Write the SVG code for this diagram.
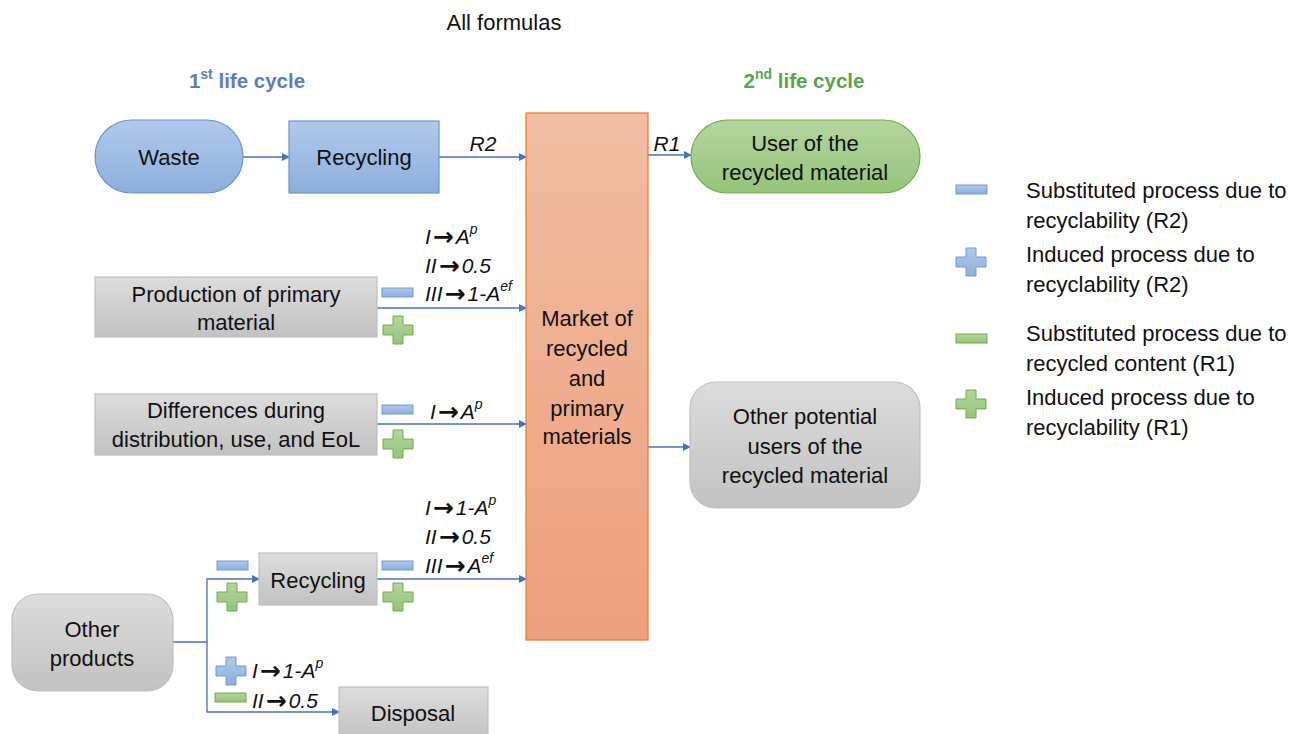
<svg xmlns="http://www.w3.org/2000/svg" width="1295" height="734" viewBox="0 0 1295 734">
<style>
  text { font-family: "Liberation Sans", Arial, sans-serif; font-size: 22px; fill: #111; dominant-baseline: central; }
  .c { text-anchor: middle; }
  .it { font-style: italic; font-size: 21px; }
  .sup { font-size: 14px; }
  .ar { font-family: "DejaVu Sans", sans-serif; font-weight: bold; font-style: normal; font-size: 25px; }
  .conn { stroke: #4472C4; stroke-width: 1.3; fill: none; }
  .blue { fill: url(#gBlue); stroke: #6A93CF; stroke-width: 1.2; }
  .green { fill: url(#gGreen); stroke: #70AD47; stroke-width: 1.2; }
  .gray { fill: url(#gGray); stroke: #BFBFBF; stroke-width: 1.2; }
  .mkt { fill: url(#gOrange); stroke: #ED7D31; stroke-width: 1.3; }
  .sb { fill: url(#gBlue); stroke: #6F9BD4; stroke-width: 1; }
  .sg { fill: url(#gGreen); stroke: #70AD47; stroke-width: 1; }
</style>
<defs>
  <linearGradient id="gBlue" x1="0" y1="0" x2="0" y2="1"><stop offset="0" stop-color="#B0C9EA"/><stop offset="1" stop-color="#8DAFDD"/></linearGradient>
  <linearGradient id="gGreen" x1="0" y1="0" x2="0" y2="1"><stop offset="0" stop-color="#B5D59E"/><stop offset="1" stop-color="#94C47A"/></linearGradient>
  <linearGradient id="gGray" x1="0" y1="0" x2="0" y2="1"><stop offset="0" stop-color="#DCDCDC"/><stop offset="1" stop-color="#C2C2C2"/></linearGradient>
  <linearGradient id="gOrange" x1="0" y1="0" x2="0" y2="1"><stop offset="0" stop-color="#F1BDA2"/><stop offset="1" stop-color="#EE9F7C"/></linearGradient>
  <marker id="arr" markerWidth="8" markerHeight="8" refX="7" refY="4" orient="auto" markerUnits="userSpaceOnUse">
    <path d="M0,0 L8,4 L0,8 Z" fill="#4472C4"/>
  </marker>
  <path id="plus" d="M10,0 H20 V9 H30 V19 H20 V28 H10 V19 H0 V9 H10 Z"/>
  <rect id="minus" x="0" y="0" width="31" height="9"/>
</defs>

<text class="c" x="504" y="22">All formulas</text>
<text class="c" x="247" y="80" style="font-weight:bold;font-size:20.5px;fill:#5B7EC2">1<tspan class="sup" dy="-6">st</tspan><tspan dy="6"> life cycle</tspan></text>
<text class="c" x="804" y="80" style="font-weight:bold;font-size:20.5px;fill:#5AA54B">2<tspan class="sup" dy="-6">nd</tspan><tspan dy="6"> life cycle</tspan></text>

<g id="connectors">
  <line class="conn" x1="243" y1="157" x2="289" y2="157" marker-end="url(#arr)"/>
  <line class="conn" x1="439" y1="157" x2="526" y2="157" marker-end="url(#arr)"/>
  <line class="conn" x1="648" y1="155" x2="691" y2="155" marker-end="url(#arr)"/>
  <line class="conn" x1="377" y1="308" x2="526" y2="308" marker-end="url(#arr)"/>
  <line class="conn" x1="377" y1="424" x2="526" y2="424" marker-end="url(#arr)"/>
  <line class="conn" x1="648" y1="447" x2="690" y2="447" marker-end="url(#arr)"/>
  <line class="conn" x1="377" y1="579" x2="526" y2="579" marker-end="url(#arr)"/>
  <polyline class="conn" points="173,642 207,642 207,579 259,579" marker-end="url(#arr)"/>
  <polyline class="conn" points="207,642 207,712 339,712" marker-end="url(#arr)"/>
  <text class="it c" x="483" y="143">R2</text>
  <text class="it c" x="667" y="143">R1</text>
  <text class="it" x="425" y="236">I<tspan class="ar" dx="2">→</tspan><tspan dx="2">A</tspan><tspan class="sup" dy="-7">p</tspan></text>
  <text class="it" x="425" y="265">II<tspan class="ar" dx="2">→</tspan><tspan dx="2">0.5</tspan></text>
  <text class="it" x="425" y="293">III<tspan class="ar" dx="2">→</tspan><tspan dx="2">1-A</tspan><tspan class="sup" dy="-7">ef</tspan></text>
  <text class="it" x="430" y="411">I<tspan class="ar" dx="2">→</tspan><tspan dx="2">A</tspan><tspan class="sup" dy="-7">p</tspan></text>
  <text class="it" x="425" y="507">I<tspan class="ar" dx="2">→</tspan><tspan dx="2">1-A</tspan><tspan class="sup" dy="-7">p</tspan></text>
  <text class="it" x="425" y="536">II<tspan class="ar" dx="2">→</tspan><tspan dx="2">0.5</tspan></text>
  <text class="it" x="425" y="565">III<tspan class="ar" dx="2">→</tspan><tspan dx="2">A</tspan><tspan class="sup" dy="-7">ef</tspan></text>
  <text class="it" x="252" y="670">I<tspan class="ar" dx="2">→</tspan><tspan dx="2">1-A</tspan><tspan class="sup" dy="-7">p</tspan></text>
  <text class="it" x="252" y="700">II<tspan class="ar" dx="2">→</tspan><tspan dx="2">0.5</tspan></text>
</g>

<g id="symbols">
  <use href="#minus" class="sb" x="382" y="288"/>
  <use href="#plus" class="sg" x="383" y="316"/>
  <use href="#minus" class="sb" x="382" y="405"/>
  <use href="#plus" class="sg" x="383" y="430"/>
  <use href="#minus" class="sb" x="382" y="561"/>
  <use href="#plus" class="sg" x="383" y="583"/>
  <use href="#minus" class="sb" x="217" y="561"/>
  <use href="#plus" class="sg" x="217" y="583"/>
  <use href="#plus" class="sb" x="216" y="657"/>
  <use href="#minus" class="sg" x="215" y="693"/>
</g>

<g id="waste">
  <rect class="blue" x="95" y="120" width="148" height="73" rx="36.5"/>
  <text class="c" x="169" y="157">Waste</text>
</g>
<g id="recycling1">
  <rect class="blue" x="289" y="121" width="150" height="72"/>
  <text class="c" x="364" y="157">Recycling</text>
</g>
<g id="market">
  <rect class="mkt" x="526" y="113" width="122" height="527"/>
  <text class="c" x="587" y="318">Market of</text>
  <text class="c" x="587" y="348">recycled</text>
  <text class="c" x="587" y="378">and</text>
  <text class="c" x="587" y="408">primary</text>
  <text class="c" x="587" y="436">materials</text>
</g>
<g id="user">
  <rect class="green" x="691" y="120" width="229" height="73" rx="36.5"/>
  <text class="c" x="805" y="143">User of the</text>
  <text class="c" x="805" y="172">recycled material</text>
</g>
<g id="production">
  <rect class="gray" x="95" y="277" width="282" height="60"/>
  <text class="c" x="236" y="294">Production of primary</text>
  <text class="c" x="236" y="322">material</text>
</g>
<g id="differences">
  <rect class="gray" x="95" y="394" width="282" height="61"/>
  <text class="c" x="236" y="410">Differences during</text>
  <text class="c" x="236" y="439">distribution, use, and EoL</text>
</g>
<g id="otherusers">
  <rect class="gray" x="690" y="382" width="230" height="126" rx="26"/>
  <text class="c" x="805" y="416">Other potential</text>
  <text class="c" x="805" y="446">users of the</text>
  <text class="c" x="805" y="475">recycled material</text>
</g>
<g id="recycling2">
  <rect class="gray" x="259" y="553" width="118" height="52"/>
  <text class="c" x="318" y="580">Recycling</text>
</g>
<g id="otherproducts">
  <rect class="gray" x="12" y="594" width="161" height="97" rx="26"/>
  <text class="c" x="92" y="629">Other</text>
  <text class="c" x="92" y="658">products</text>
</g>
<g id="disposal">
  <rect class="gray" x="339" y="687" width="149" height="52"/>
  <text class="c" x="413" y="713">Disposal</text>
</g>

<g id="legend">
  <use href="#minus" class="sb" x="956" y="185"/>
  <text x="1026" y="190">Substituted process due to</text>
  <text x="1026" y="220">recyclability (R2)</text>
  <use href="#plus" class="sb" x="956" y="248"/>
  <text x="1026" y="254">Induced process due to</text>
  <text x="1026" y="284">recyclability (R2)</text>
  <use href="#minus" class="sg" x="956" y="334"/>
  <text x="1026" y="333">Substituted process due to</text>
  <text x="1026" y="363">recycled content (R1)</text>
  <use href="#plus" class="sg" x="956" y="390"/>
  <text x="1026" y="397">Induced process due to</text>
  <text x="1026" y="427">recyclability (R1)</text>
</g>
</svg>
